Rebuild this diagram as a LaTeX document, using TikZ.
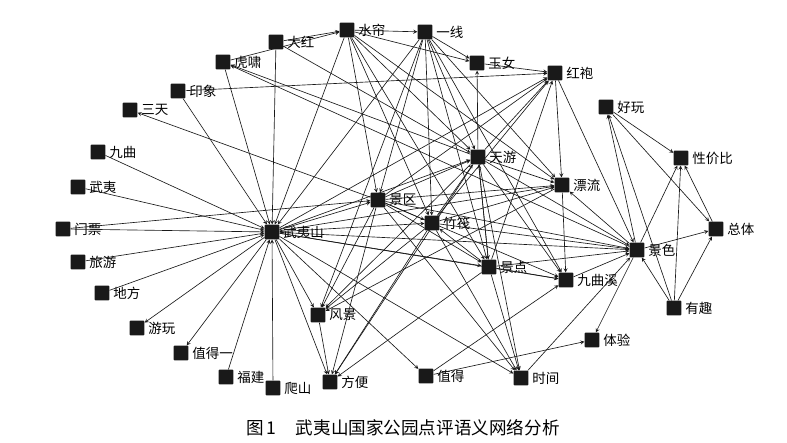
\documentclass[tikz,border=0pt]{standalone}
\usepackage{fontspec}
\newfontfamily\cjk{Noto Sans CJK SC}
\usetikzlibrary{arrows}
\tikzstyle{sq} = [fill=black!90,minimum size=0.44cm,inner sep=0pt,rounded corners=0.6pt]
\tikzstyle{lbl} = [font=\cjk\fontsize{11.5}{12}\selectfont,inner sep=0.5pt]
\tikzstyle{edge} = [->,>=stealth,line width=0.55pt,black!90]

\begin{document}
\begin{tikzpicture}[x=0.03cm,y=-0.03cm,label distance=2.5pt]
\useasboundingbox (0,0) rectangle (787,442);

% top row
\node[sq,label={[lbl]right:水帘}] (sl) at (347,30) {};
\node[sq,label={[lbl]right:一线}] (yx) at (425,32) {};
\node[sq,label={[lbl]right:大红}] (dh) at (276,42) {};
\node[sq,label={[lbl]right:虎啸}] (hx) at (223,62) {};
\node[sq,label={[lbl]right:玉女}] (yn) at (477,63) {};
\node[sq,label={[lbl]right:红袍}] (hp) at (555,73) {};

% left ring
\node[sq,label={[lbl]right:印象}] (yxiang) at (178,91) {};
\node[sq,label={[lbl]right:三天}] (st) at (130,110) {};
\node[sq,label={[lbl]right:九曲}] (jqu) at (98,152) {};
\node[sq,label={[lbl]right:武夷}] (wy) at (78,187) {};
\node[sq,label={[lbl]right:门票}] (mp) at (63,229) {};
\node[sq,label={[lbl]right:旅游}] (ly) at (78,262) {};
\node[sq,label={[lbl]right:地方}] (df) at (102,293) {};
\node[sq,label={[lbl]right:游玩}] (yw) at (137,328) {};
\node[sq,label={[lbl]right:值得一}] (zdy) at (181,353) {};
\node[sq,label={[lbl]right:福建}] (fj) at (226,377) {};
\node[sq,label={[lbl]right:爬山}] (ps) at (273,388) {};
\node[sq,label={[lbl]right:方便}] (fb) at (330,382) {};
\node[sq,label={[lbl]right:风景}] (fjing) at (318,315) {};

% centre
\node[sq,label={[lbl]right:武夷山}] (wys) at (272,232) {};
\node[sq,label={[lbl]right:景区}] (jq) at (378,200) {};
\node[sq,label={[lbl]right:竹筏}] (zf) at (432,223) {};
\node[sq,label={[lbl]right:天游}] (ty) at (478,157) {};
\node[sq,label={[lbl]right:漂流}] (pl) at (562,185) {};
\node[sq,label={[lbl]right:景点}] (jd) at (489,267) {};
\node[sq,label={[lbl]right:九曲溪}] (jqx) at (566,280) {};
\node[sq,label={[lbl]right:值得}] (zd) at (426,376) {};
\node[sq,label={[lbl]right:时间}] (sj) at (521,378) {};
\node[sq,label={[lbl]right:体验}] (tyan) at (592,340) {};

% right cluster
\node[sq,label={[lbl]right:好玩}] (hw) at (606,107) {};
\node[sq,label={[lbl]right:性价比}] (xjb) at (681,158) {};
\node[sq,label={[lbl]right:景色}] (js) at (637,250) {};
\node[sq,label={[lbl]right:总体}] (zt) at (716,229) {};
\node[sq,label={[lbl]right:有趣}] (yq) at (674,308) {};

% edges into the hub
\foreach \a in {jqu,wy,mp,ly,df,fj,ps,yxiang,hx,dh,sl,yx}
\draw[edge] (\a) -- (wys);

% edges out of the hub
\foreach \b in {yw,zdy,fb,fjing,zd,sj,jd,zf,jq,js,pl,ty,hp,jqx}
\draw[edge] (wys) -- (\b);

% other edges
\foreach \a/\b in {jq/st,mp/jq,jq/ty,jq/hp,jq/pl,jq/js,jq/zf,jq/jd,jq/fjing,jq/fb,jq/sj,jq/jqx,
sl/jq,yx/jq,zf/ty,zf/hp,zf/pl,zf/js,zf/sj,zf/fjing,zf/fb,yx/zf,sl/zf,jd/zf,
ty/yn,ty/hp,ty/pl,ty/js,ty/jqx,ty/jd,ty/sj,ty/hx,ty/fb,ty/fjing,dh/ty,sl/ty,yx/ty,jd/ty,
yn/hp,yxiang/hp,jd/hp,hp/pl,hp/js,sl/pl,yx/pl,js/pl,pl/jqx,pl/fjing,
jd/jqx,yx/jqx,jqx/js,zd/jqx,sl/jd,yx/jd,jd/js,jd/sj,jd/fb,yx/fjing,
sj/js,yq/js,js/hw,js/xjb,js/zt,js/tyan,js/hx,
hw/xjb,hw/zt,yq/xjb,yq/zt,yq/hw,zt/xjb,zd/tyan,fjing/fb,
dh/sl,hx/sl,sl/yx,sl/yn,yx/yn}
\draw[edge] (\a) -- (\b);

\node[font=\cjk\fontsize{15}{16}\selectfont] (cap) at (403,428) {图\,1\hspace{1.1em}武夷山国家公园点评语义网络分析};
\end{tikzpicture}
\end{document}
